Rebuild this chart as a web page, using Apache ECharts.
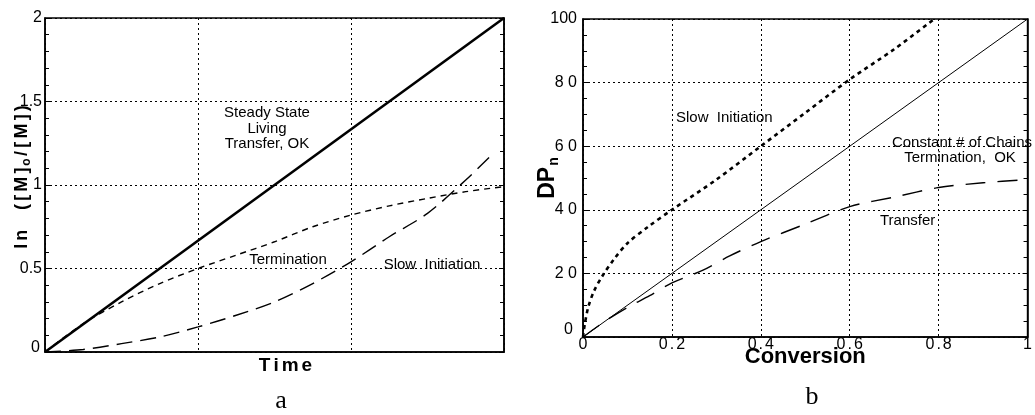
<!DOCTYPE html>
<html><head><meta charset="utf-8">
<script src="https://cdn.jsdelivr.net/npm/echarts@6/dist/echarts.min.js"></script>
<style>html,body{margin:0;padding:0;background:#fff}#c{width:1035px;height:415px}</style>
</head><body><div id="c"></div>
<script>
// ---------- Panel a : ln([M]o/[M]) vs Time ----------
const yTickLabelsA = ['0', '0.5', '1', '1.5', '2'];
const steadyT = [0, 3];
const steadyV = [0, 2];
const termT = [0, 0.25, 0.5, 0.75, 1, 1.25, 1.5, 1.75, 2, 2.25, 2.5, 2.75, 3];
const termV = [0, 0.17, 0.30, 0.41, 0.50, 0.58, 0.66, 0.75, 0.82, 0.875, 0.92, 0.96, 0.99];
const slowAT = [0, 0.25, 0.5, 0.75, 1, 1.25, 1.5, 1.75, 2, 2.25, 2.5, 2.75, 2.93];
const slowAV = [0, 0.015, 0.05, 0.09, 0.15, 0.22, 0.30, 0.41, 0.54, 0.69, 0.83, 1.03, 1.19];

// ---------- Panel b : DPn vs Conversion ----------
const xTickLabelsB = ['0', '0.2', '0.4', '0.6', '0.8', '1'];
const yTickLabelsB = ['0', '2 0', '4 0', '6 0', '8 0', '100'];
const slowBC = [0, 0.004, 0.012, 0.025, 0.045, 0.07, 0.1, 0.145, 0.2, 0.3, 0.4, 0.5, 0.6, 0.7, 0.79];
const slowBDP = [0, 4, 9.5, 14.5, 19.5, 24.5, 29.5, 34.5, 40, 49.5, 60, 70.5, 81, 90.5, 100];
const constC = [0, 1];
const constDP = [0, 100];
const transC = [0, 0.05, 0.1, 0.15, 0.2, 0.27, 0.33, 0.4, 0.5, 0.6, 0.7, 0.8, 0.9, 1.0];
const transDP = [0, 5, 9.3, 13, 17, 21, 25.5, 30, 35.5, 41, 44, 47, 48.5, 49.5];

const SANS = 'Liberation Sans, Arial, Helvetica, sans-serif';
const SERIF = 'Liberation Serif, Times New Roman, serif';
const zip = (a, b) => a.map((v, i) => [v, b[i]]);
const spaced = (s, st) => s.split('').map(c => '{' + st + '|' + c + '}').join('');

const chart = echarts.init(document.getElementById('c'), null, {renderer: 'canvas'});

const gridLine = {show: true, lineStyle: {color: '#000', type: [2, 3], width: 1}};
const axLine = {show: true, lineStyle: {color: '#000', width: 1.5}};

const option = {
  animation: false,
  backgroundColor: '#fff',
  grid: [
    {left: 45, top: 18, width: 459, height: 334, show: true, borderColor: '#000', borderWidth: 1.5},
    {left: 583, top: 19, width: 448, height: 318, show: true, borderColor: '#000', borderWidth: 1.5}
  ],
  xAxis: [
    {
      gridIndex: 0, type: 'value', min: 0, max: 3, interval: 1,
      axisLine: axLine, axisTick: {show: false}, axisLabel: {show: false},
      splitLine: gridLine,
      name: spaced('Time', 't'), nameLocation: 'middle', nameGap: 4, nameMoveOverlap: false,
      nameTextStyle: {
        padding: [0, 0, 0, 22],
        rich: {t: {fontFamily: SANS, fontWeight: 'bold', fontSize: 19, color: '#000', padding: [0, 1.5, 0, 1.5]}}
      }
    },
    {
      gridIndex: 1, type: 'value', min: 0, max: 1, interval: 0.2,
      axisLine: axLine, axisTick: {show: false},
      axisLabel: {
        margin: 0,
        formatter: v => spaced(xTickLabelsB[Math.round(v / 0.2)], 'd'),
        rich: {d: {fontFamily: SANS, fontSize: 16, color: '#000', padding: [0, 1, 0, 1]}}
      },
      splitLine: gridLine,
      name: 'Conversion', nameLocation: 'middle', nameGap: 9, nameMoveOverlap: false,
      nameTextStyle: {fontFamily: SANS, fontWeight: 'bold', fontSize: 22, color: '#000'}
    }
  ],
  yAxis: [
    {
      gridIndex: 0, type: 'value', min: 0, max: 2, interval: 0.5, position: 'left',
      axisLine: axLine,
      axisTick: {show: true, inside: true, length: 5, lineStyle: {color: '#000'}},
      minorTick: {show: true, splitNumber: 5, length: 4, lineStyle: {color: '#000'}},
      axisLabel: {
        margin: 3, fontFamily: SANS, fontSize: 16, color: '#000',
        formatter: v => {
          const s = yTickLabelsA[Math.round(v / 0.5)];
          return v === 0 ? '{z|' + s + '}' : s;
        },
        rich: {z: {fontFamily: SANS, fontSize: 16, color: '#000', padding: [0, 2, 9, 0]}}
      },
      splitLine: gridLine,
      name: spaced('ln  ([M]', 'm') + '{o|o}' + spaced('/[M])', 'm'),
      nameLocation: 'middle', nameGap: 12, nameMoveOverlap: false,
      nameTextStyle: {
        padding: [0, 0, 0, 16],
        rich: {
          m: {fontFamily: SANS, fontWeight: 'bold', fontSize: 18, color: '#000', lineHeight: 22, padding: [0, 1.6, 0, 1.6]},
          o: {fontFamily: SANS, fontWeight: 'bold', fontSize: 12, color: '#000', lineHeight: 12, padding: [10, 1, 0, 0]}
        }
      }
    },
    {
      gridIndex: 0, type: 'value', min: 0, max: 2, interval: 0.5, position: 'right',
      axisLine: axLine,
      axisTick: {show: true, inside: true, length: 5, lineStyle: {color: '#000'}},
      minorTick: {show: true, splitNumber: 5, length: 4, lineStyle: {color: '#000'}},
      axisLabel: {show: false}, splitLine: {show: false}
    },
    {
      gridIndex: 1, type: 'value', min: 0, max: 100, interval: 20, position: 'left',
      axisLine: axLine,
      axisTick: {show: true, inside: true, length: 5, lineStyle: {color: '#000'}},
      minorTick: {show: true, splitNumber: 4, length: 4, lineStyle: {color: '#000'}},
      axisLabel: {
        margin: 6, fontFamily: SANS, fontSize: 16, color: '#000',
        formatter: v => {
          const s = yTickLabelsB[Math.round(v / 20)];
          return v === 0 ? '{z|' + s + '}' : s;
        },
        rich: {z: {fontFamily: SANS, fontSize: 16, color: '#000', padding: [0, 4, 14, 0]}}
      },
      splitLine: gridLine,
      name: '{d|DP}{n|n}', nameLocation: 'middle', nameGap: 22, nameMoveOverlap: false,
      nameTextStyle: {
        rich: {
          d: {fontFamily: SANS, fontWeight: 'bold', fontSize: 23, color: '#000', lineHeight: 26},
          n: {fontFamily: SANS, fontWeight: 'bold', fontSize: 14, color: '#000', lineHeight: 14, padding: [12, 0, 0, 1]}
        }
      }
    },
    {
      gridIndex: 1, type: 'value', min: 0, max: 100, interval: 20, position: 'right',
      axisLine: axLine,
      axisTick: {show: true, inside: true, length: 5, lineStyle: {color: '#000'}},
      minorTick: {show: true, splitNumber: 4, length: 4, lineStyle: {color: '#000'}},
      axisLabel: {show: false}, splitLine: {show: false}
    }
  ],
  series: [
    {name: 'Steady State', type: 'line', xAxisIndex: 0, yAxisIndex: 0, data: zip(steadyT, steadyV),
      showSymbol: false, silent: true, lineStyle: {color: '#000', width: 2.6}},
    {name: 'Termination', type: 'line', xAxisIndex: 0, yAxisIndex: 0, data: zip(termT, termV),
      showSymbol: false, silent: true, smooth: 0.3, lineStyle: {color: '#000', width: 1.4, type: [6, 5]}},
    {name: 'Slow Initiation a', type: 'line', xAxisIndex: 0, yAxisIndex: 0, data: zip(slowAT, slowAV),
      showSymbol: false, silent: true, smooth: 0.3, lineStyle: {color: '#000', width: 1.4, type: [16, 8]}},
    {name: 'Slow Initiation b', type: 'line', xAxisIndex: 1, yAxisIndex: 2, data: zip(slowBC, slowBDP),
      showSymbol: false, silent: true, smooth: 0.3, lineStyle: {color: '#000', width: 2.6, type: [4, 4], cap: 'butt'}},
    {name: 'Constant', type: 'line', xAxisIndex: 1, yAxisIndex: 2, data: zip(constC, constDP),
      showSymbol: false, silent: true, lineStyle: {color: '#000', width: 1}},
    {name: 'Transfer', type: 'line', xAxisIndex: 1, yAxisIndex: 2, data: zip(transC, transDP),
      showSymbol: false, silent: true, smooth: 0.3, lineStyle: {color: '#000', width: 1.4, type: [20, 12]}}
  ],
  graphic: [
    {type: 'text', x: 267, y: 113, style: {text: 'Steady State', font: '15px ' + SANS, fill: '#000', align: 'center', verticalAlign: 'middle', textAlign: 'center', textVerticalAlign: 'middle'}},
    {type: 'text', x: 267, y: 129, style: {text: 'Living', font: '15px ' + SANS, fill: '#000', align: 'center', verticalAlign: 'middle', textAlign: 'center', textVerticalAlign: 'middle'}},
    {type: 'text', x: 267, y: 144, style: {text: 'Transfer, OK', font: '15px ' + SANS, fill: '#000', align: 'center', verticalAlign: 'middle', textAlign: 'center', textVerticalAlign: 'middle'}},
    {type: 'text', x: 288, y: 260, style: {text: 'Termination', font: '15px ' + SANS, fill: '#000', align: 'center', verticalAlign: 'middle', textAlign: 'center', textVerticalAlign: 'middle'}},
    {type: 'text', x: 432, y: 265, style: {text: 'Slow  Initiation', font: '15px ' + SANS, fill: '#000', align: 'center', verticalAlign: 'middle', textAlign: 'center', textVerticalAlign: 'middle'}},
    {type: 'text', x: 676, y: 118, style: {text: 'Slow  Initiation', font: '15px ' + SANS, fill: '#000', align: 'left', verticalAlign: 'middle', textAlign: 'left', textVerticalAlign: 'middle'}},
    {type: 'text', x: 1032, y: 143, style: {text: 'Constant # of Chains', font: '15px ' + SANS, fill: '#000', align: 'right', verticalAlign: 'middle', textAlign: 'right', textVerticalAlign: 'middle'}},
    {type: 'text', x: 960, y: 158, style: {text: 'Termination,  OK', font: '15px ' + SANS, fill: '#000', align: 'center', verticalAlign: 'middle', textAlign: 'center', textVerticalAlign: 'middle'}},
    {type: 'text', x: 880, y: 221, style: {text: 'Transfer', font: '15px ' + SANS, fill: '#000', align: 'left', verticalAlign: 'middle', textAlign: 'left', textVerticalAlign: 'middle'}},
    {type: 'text', x: 281, y: 401, style: {text: 'a', font: '26px ' + SERIF, fill: '#000', align: 'center', verticalAlign: 'middle', textAlign: 'center', textVerticalAlign: 'middle'}},
    {type: 'text', x: 812, y: 397, style: {text: 'b', font: '26px ' + SERIF, fill: '#000', align: 'center', verticalAlign: 'middle', textAlign: 'center', textVerticalAlign: 'middle'}}
  ]
};
chart.setOption(option);
</script>
</body></html>
